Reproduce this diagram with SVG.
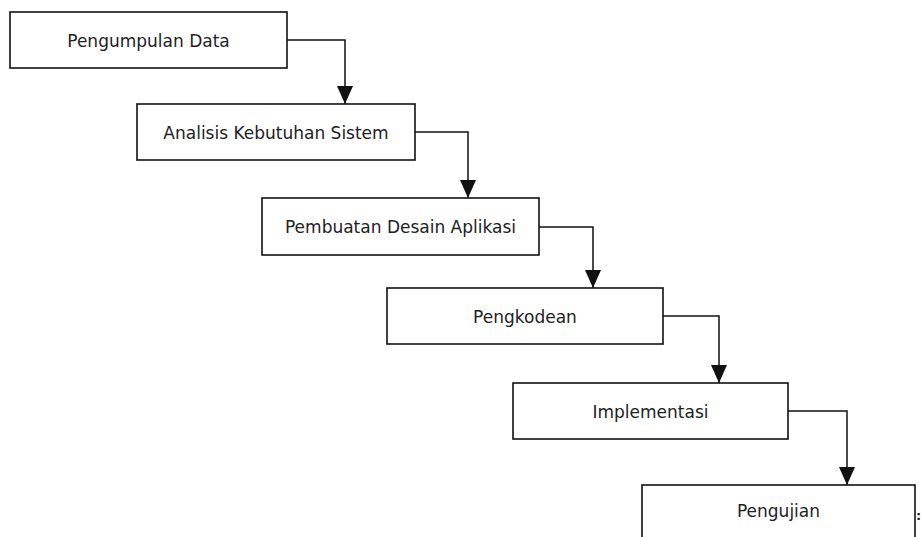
<svg xmlns="http://www.w3.org/2000/svg" width="921" height="537" viewBox="0 0 921 537">
<style>
.box{fill:#fff;stroke:#111;stroke-width:1.6}
.lbl{font-family:"DejaVu Sans",Verdana,sans-serif;font-size:17px;fill:#222;text-anchor:middle}
.con{fill:none;stroke:#111;stroke-width:1.5}
</style>
<defs>
<marker id="ah" markerUnits="userSpaceOnUse" markerWidth="18" markerHeight="16" refX="18" refY="8" orient="auto">
<path d="M0,0 L18,8 L0,16 z" fill="#111"/>
</marker>
</defs>
<rect width="921" height="537" fill="#fff"/>
<g id="connectors">
<path class="con" d="M287,40 H345 V104" marker-end="url(#ah)"/>
<path class="con" d="M415,132 H468 V198" marker-end="url(#ah)"/>
<path class="con" d="M539,227 H593 V288" marker-end="url(#ah)"/>
<path class="con" d="M663,316 H719 V383" marker-end="url(#ah)"/>
<path class="con" d="M788,411 H847 V485" marker-end="url(#ah)"/>
</g>
<g id="n1"><rect class="box" x="10" y="12" width="277" height="56"/><text class="lbl" x="148.5" y="47">Pengumpulan Data</text></g>
<g id="n2"><rect class="box" x="137" y="104" width="278" height="56"/><text class="lbl" x="276" y="139">Analisis Kebutuhan Sistem</text></g>
<g id="n3"><rect class="box" x="262" y="198" width="277" height="57"/><text class="lbl" x="400.5" y="233">Pembuatan Desain Aplikasi</text></g>
<g id="n4"><rect class="box" x="387" y="288" width="276" height="56"/><text class="lbl" x="525" y="323">Pengkodean</text></g>
<g id="n5"><rect class="box" x="513" y="383" width="275" height="56"/><text class="lbl" x="650.5" y="418">Implementasi</text></g>
<g id="n6"><rect class="box" x="642" y="485" width="273" height="70"/><text class="lbl" x="778.5" y="517">Pengujian</text></g>
<text x="916" y="520" style="font-family:'DejaVu Sans',sans-serif;font-size:13px;font-weight:bold;fill:#222">:</text>
</svg>
